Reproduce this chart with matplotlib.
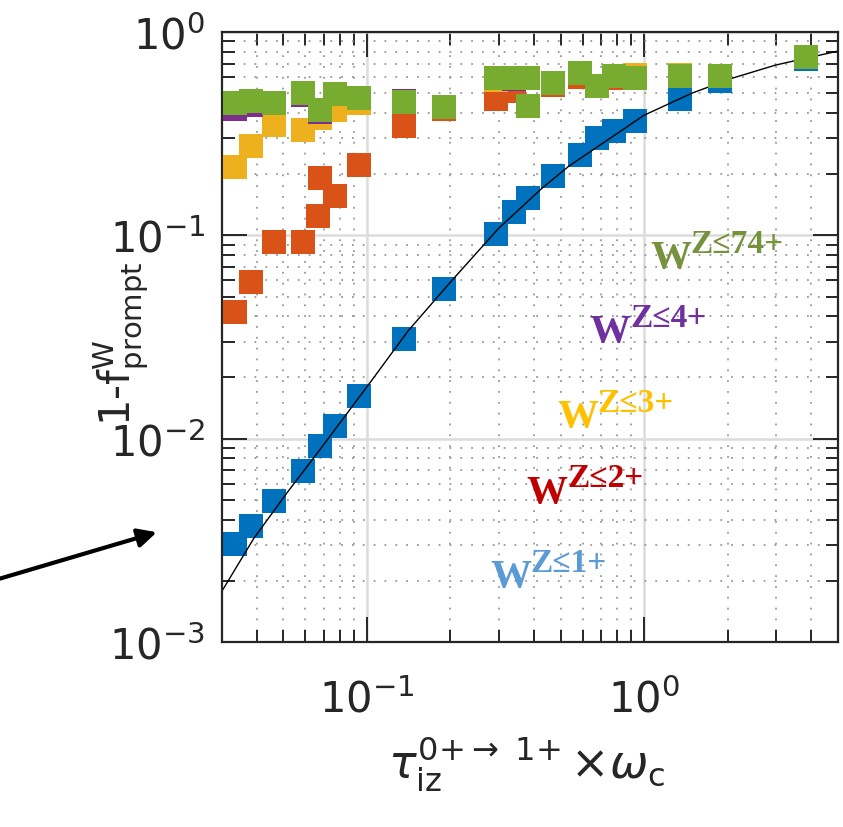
import matplotlib.pyplot as plt
from matplotlib.ticker import NullFormatter

# data (x = tau_iz * omega_c, y = 1 - f_prompt)
tau_z1 = [0.0335, 0.0383, 0.0464, 0.0586, 0.0676, 0.0766, 0.0935, 0.136, 0.190, 0.291,
          0.338, 0.380, 0.470, 0.586, 0.676, 0.780, 0.928, 1.35, 1.88, 3.85]
f_z1 = [0.00304, 0.00373, 0.00496, 0.00695, 0.00925, 0.0115, 0.0163, 0.0311, 0.0542, 0.102,
        0.131, 0.152, 0.195, 0.248, 0.301, 0.325, 0.364, 0.468, 0.574, 0.735]

tau_z2 = [0.0335, 0.0383, 0.0464, 0.0586, 0.0665, 0.0676, 0.0766, 0.0935, 0.136, 0.190,
          0.291, 0.338, 0.470, 0.586, 0.780]
f_z2 = [0.0418, 0.0587, 0.0924, 0.0924, 0.124, 0.191, 0.157, 0.221, 0.346, 0.418,
        0.468, 0.512, 0.548, 0.600, 0.593]

tau_z3 = [0.0335, 0.0383, 0.0464, 0.0586, 0.0676, 0.0766, 0.0935, 0.291, 0.928, 1.35]
f_z3 = [0.216, 0.274, 0.348, 0.329, 0.379, 0.415, 0.450, 0.583, 0.614, 0.614]

tau_z4 = [0.0335, 0.0383, 0.0586, 0.0676, 0.136, 0.338]
f_z4 = [0.420, 0.440, 0.492, 0.406, 0.460, 0.587]

tau_z74 = [0.0335, 0.0383, 0.0464, 0.0586, 0.0676, 0.0766, 0.0935, 0.136, 0.190, 0.291,
           0.338, 0.380, 0.380, 0.470, 0.586, 0.676, 0.780, 0.928, 1.35, 1.88, 3.85]
f_z74 = [0.447, 0.457, 0.447, 0.501, 0.413, 0.495, 0.473, 0.452, 0.430, 0.593,
         0.593, 0.593, 0.435, 0.561, 0.628, 0.542, 0.607, 0.593, 0.607, 0.607, 0.753]

# fitted curve
fit_x = [0.03, 0.039, 0.0518, 0.0681, 0.1033, 0.141, 0.201, 0.298, 0.427, 0.535,
         0.832, 1.0, 1.49, 2.08, 2.98, 5.0]
fit_y = [0.00178, 0.00322, 0.00548, 0.00893, 0.0191, 0.034, 0.0593, 0.108, 0.170, 0.219,
         0.329, 0.390, 0.501, 0.593, 0.688, 0.806]

series = [
    (tau_z1, f_z1, '#0072BD', 2),
    (tau_z2, f_z2, '#D95319', 3),
    (tau_z3, f_z3, '#EDB120', 3),
    (tau_z4, f_z4, '#7E2F8E', 3),
    (tau_z74, f_z74, '#77AC30', 3),
]

labels = [
    ('Z≤74+', '#76923C', 0.695, 0.615),
    ('Z≤4+', '#7030A0', 0.597, 0.493),
    ('Z≤3+', '#FFC000', 0.544, 0.354),
    ('Z≤2+', '#C00000', 0.495, 0.230),
    ('Z≤1+', '#5B9BD5', 0.435, 0.092),
]

axis_col = '#262626'

fig = plt.figure(figsize=(8.43, 8.28), dpi=100)
ax = fig.add_axes([0.2633, 0.2234, 0.7307, 0.7367])
ax.set_xscale('log')
ax.set_yscale('log')

for x, y, c, z in series:
    ax.plot(x, y, 's', ms=16.8, mew=0, color=c, zorder=z)
ax.plot(fit_x, fit_y, '-', color='black', lw=1.0, zorder=2.5)

ax.set_xlim(0.03, 5)
ax.set_ylim(1e-3, 1)

# grids: solid major, dotted minor
ax.set_axisbelow(True)
ax.grid(True, which='major', color='#dcdcdc', lw=1.8, ls='-')
ax.grid(True, which='minor', color='#999999', lw=1.3, ls=(0, (1, 5)))

for s in ax.spines.values():
    s.set_color(axis_col)
    s.set_linewidth(1.6)

ax.tick_params(which='both', direction='in', top=True, right=True,
               color=axis_col, width=1.4, labelcolor=axis_col, labelsize=30)
ax.tick_params(which='major', length=18)
ax.tick_params(which='minor', length=9)
ax.tick_params(axis='y', pad=12)
ax.tick_params(axis='x', pad=26)
ax.xaxis.set_minor_formatter(NullFormatter())
ax.yaxis.set_minor_formatter(NullFormatter())

ax.set_ylabel(r'1-f$^{\rm W}_{\rm prompt}$', fontsize=30, color=axis_col)
ax.yaxis.set_label_coords(-0.117, 0.49)
ax.set_xlabel(r'$\tau_{\mathrm{iz}}^{\mathrm{0{+}{\rightarrow}\ 1{+}}}\,{\times}\omega_{\mathrm{c}}$',
              fontsize=33, color=axis_col)
ax.xaxis.set_label_coords(0.495, -0.150)

# coloured charge-state labels: big W with raised superscript
for sup, col, lx, ly in labels:
    ax.text(lx, ly, 'W', transform=ax.transAxes, color=col, fontsize=29.5,
            fontweight='bold', family=['Liberation Serif', 'DejaVu Serif'],
            ha='left', va='baseline', zorder=5)
    ax.text(lx + 0.066, ly + 0.025, sup, transform=ax.transAxes, color=col,
            fontsize=24, fontweight='bold', family=['Liberation Serif', 'DejaVu Serif'],
            ha='left', va='baseline', zorder=5)

# black arrow pointing into the plot from the left edge
ax.annotate('', xy=(0.186, 0.356), xytext=(0.0, 0.300),
            xycoords='figure fraction', textcoords='figure fraction',
            arrowprops=dict(arrowstyle='-|>', color='black', lw=3,
                            mutation_scale=28, shrinkA=0, shrinkB=0),
            annotation_clip=False)

fig.savefig('out.png', dpi=100)
